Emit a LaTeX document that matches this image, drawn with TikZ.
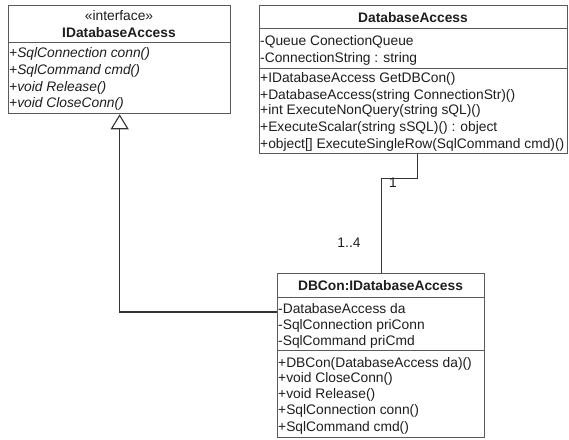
\documentclass[tikz,border=0pt]{standalone}
\usepackage{fontspec}
\setmainfont{Liberation Sans}
\usetikzlibrary{arrows.meta,calc}

\definecolor{boxline}{HTML}{5A5A5A}
\definecolor{ink}{HTML}{1E1E1E}
\definecolor{wire}{HTML}{333333}

\tikzset{
  umlbox/.style={draw=boxline, line width=1.3pt, fill=white, anchor=north west, inner sep=0pt},
  sepline/.style={draw=boxline, line width=1pt},
  member/.style={anchor=base west, inner sep=0pt, text=ink, font=\fontsize{13.8}{16}\selectfont},
  abstract/.style={member, font=\fontsize{13.8}{16}\selectfont\itshape},
  title/.style={anchor=base, inner sep=0pt, text=ink, font=\fontsize{13.8}{16}\selectfont\bfseries},
  stereo/.style={anchor=base, inner sep=0pt, text=ink, font=\fontsize{13.8}{16}\selectfont},
  wirestyle/.style={draw=wire, line width=1.1pt},
  mult/.style={anchor=base, inner sep=0pt, text=ink, font=\fontsize{13.8}{16}\selectfont}
}

\begin{document}
\begin{tikzpicture}[x=1pt,y=-1pt]
\useasboundingbox (0,0) rectangle (569,439);

% ---- interface IDatabaseAccess
\node (iface) [umlbox, minimum width=222pt, minimum height=108pt] at (8,5) {};
\draw[sepline] ([yshift=-37pt]iface.north west) -- ([yshift=-37pt]iface.north east);
\node (ifst) [stereo] at (119,20) {«interface»};
\node (ifti) [title] at (119,37) {IDatabaseAccess};
\node (ifm1) [abstract] at (9,57) {+SqlConnection conn()};
\node (ifm2) [abstract] at (9,74) {+SqlCommand cmd()};
\node (ifm3) [abstract] at (9,91) {+void Release()};
\node (ifm4) [abstract] at (9,107) {+void CloseConn()};

% ---- class DatabaseAccess
\node (dba) [umlbox, minimum width=308pt, minimum height=148pt] at (259,5) {};
\draw[sepline] ([yshift=-23pt]dba.north west) -- ([yshift=-23pt]dba.north east);
\draw[sepline] ([yshift=-63pt]dba.north west) -- ([yshift=-63pt]dba.north east);
\node (dbati) [title] at (413,22) {DatabaseAccess};
\node (dbaa1) [member] at (260,45) {-Queue ConectionQueue};
\node (dbaa2) [member] at (260,62) {-ConnectionString : string};
\node (dbam1) [member] at (260,82) {+IDatabaseAccess GetDBCon()};
\node (dbam2) [member] at (260,99) {+DatabaseAccess(string ConnectionStr)()};
\node (dbam3) [member] at (260,114) {+int ExecuteNonQuery(string sQL)()};
\node (dbam4) [member] at (260,131) {+ExecuteScalar(string sSQL)() : object};
\node (dbam5) [member] at (260,148) {+object[] ExecuteSingleRow(SqlCommand cmd)()};

% ---- class DBCon
\node (dbcon) [umlbox, minimum width=207pt, minimum height=164pt] at (277,273) {};
\draw[sepline] ([yshift=-24pt]dbcon.north west) -- ([yshift=-24pt]dbcon.north east);
\draw[sepline] ([yshift=-77pt]dbcon.north west) -- ([yshift=-77pt]dbcon.north east);
\node (dbcti) [title] at (380.5,290) {DBCon:IDatabaseAccess};
\node (dbca1) [member] at (278,313) {-DatabaseAccess da};
\node (dbca2) [member] at (278,329) {-SqlConnection priConn};
\node (dbca3) [member] at (278,345) {-SqlCommand priCmd};
\node (dbcm1) [member] at (278,367) {+DBCon(DatabaseAccess da)()};
\node (dbcm2) [member] at (278,382) {+void CloseConn()};
\node (dbcm3) [member] at (278,398) {+void Release()};
\node (dbcm4) [member] at (278,414) {+SqlConnection conn()};
\node (dbcm5) [member] at (278,431) {+SqlCommand cmd()};

% ---- realization of the interface
\draw[wirestyle, -{Triangle[open, length=15pt, width=18pt, fill=white]}]
  ([yshift=-39pt]dbcon.north west) -| (iface.south);

% ---- association with multiplicities
\draw[wirestyle] ([xshift=4pt]dba.south) -- ++(0,24) -| (dbcon.north);
\node (m1) [mult] at (393,187) {1};
\node (m2) [mult] at (349,247) {1..4};
\end{tikzpicture}
\end{document}
